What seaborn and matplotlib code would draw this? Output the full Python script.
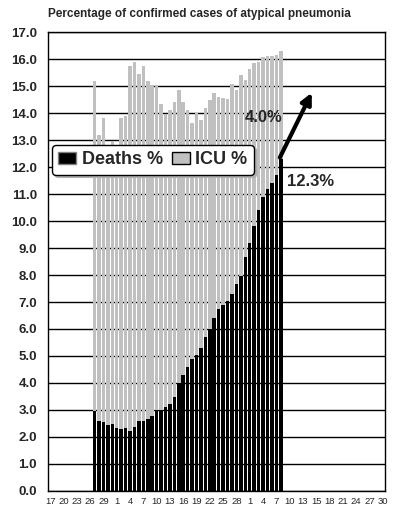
import pandas as pd
import matplotlib.pyplot as plt
import seaborn as sns
from matplotlib.patches import Patch

# axis: one slot per day from 17 March to 31 May, label every third day
days = pd.date_range("2003-03-17", periods=76, freq="D")
tick_labels = ["17", "20", "23", "26", "29", "1", "4", "7", "10", "13", "16", "19",
               "22", "25", "28", "1", "4", "7", "10", "13", "15", "18", "21", "24",
               "27", "30"]

first_day = "2003-03-27"
deaths_pct = [2.95, 2.60, 2.55, 2.45, 2.47, 2.35, 2.28, 2.32, 2.22, 2.37,
              2.58, 2.60, 2.68, 2.76, 3.00, 3.00, 3.10, 3.22, 3.47, 4.00,
              4.30, 4.60, 4.88, 5.05, 5.30, 5.70, 6.00, 6.40, 6.75, 6.90,
              7.05, 7.30, 7.65, 7.95, 8.65, 9.20, 9.80, 10.40, 10.90, 11.20,
              11.40, 11.70, 12.30]
icu_pct = [12.25, 10.58, 11.27, 10.15, 10.49, 10.35, 11.54, 11.58, 13.53, 13.51,
           12.87, 13.15, 12.52, 12.26, 12.05, 11.35, 10.88, 10.88, 10.93, 10.86,
           10.10, 9.50, 8.76, 8.95, 8.45, 8.50, 8.49, 8.34, 7.86, 7.66,
           7.48, 7.76, 7.19, 7.44, 6.59, 6.43, 6.04, 5.50, 5.16, 4.90,
           4.72, 4.45, 4.00]

title = "Percentage of confirmed cases of atypical pneumonia"

sns.set_style("white")
plt.rcParams["font.family"] = ["Liberation Sans", "DejaVu Sans"]

order = days.strftime("%Y-%m-%d")
df = pd.DataFrame({
    "day": pd.date_range(first_day, periods=len(deaths_pct), freq="D").strftime("%Y-%m-%d"),
    "deaths": deaths_pct,
    "icu": icu_pct,
})
df["total"] = df["deaths"] + df["icu"]

fig = plt.figure(figsize=(3.95, 5.13), dpi=100)
ax = fig.add_axes([0.1215, 0.0429, 0.853, 0.8947])

# ICU is stacked on deaths: draw the total in grey, then deaths in black over it
sns.barplot(data=df, x="day", y="total", order=order, color="#c0c0c0", saturation=1,
            width=0.8, errorbar=None, linewidth=0, ax=ax)
sns.barplot(data=df, x="day", y="deaths", order=order, color="black", saturation=1,
            width=0.8, errorbar=None, linewidth=0, ax=ax)

ax.set_xlim(-0.5, len(days) - 0.5)
ax.set_ylim(0, 17)
ax.set_yticks(range(0, 18))
ax.set_yticklabels([f"{v:.1f}" for v in range(0, 18)], fontsize=9.5, fontweight="bold")
ax.set_xticks(range(0, len(days), 3))
ax.set_xticklabels(tick_labels, fontsize=6.8)
ax.tick_params(axis="y", length=0, pad=8)
ax.tick_params(axis="x", length=0, pad=4)
ax.set_xlabel("")
ax.set_ylabel("")
ax.yaxis.grid(True, color="black", linewidth=1)
ax.set_axisbelow(True)
for sp in ax.spines.values():
    sp.set_color("black")
    sp.set_linewidth(1)

fig.text(48 / 395, 1 - 14 / 513, title, ha="left", va="center",
         fontsize=8.5, fontweight="bold")

# arrow from the top of the last deaths bar, with the closing values
last = order.get_loc(df["day"].iloc[-1])
ax.annotate("", xy=(last + 7, deaths_pct[-1] + 2.45), xytext=(last - 0.2, deaths_pct[-1] + 0.05),
            arrowprops=dict(arrowstyle="-|>", color="black", lw=3, mutation_scale=16,
                            shrinkA=0, shrinkB=0))
ax.text(last - 3.8, deaths_pct[-1] + icu_pct[-1] - 2.45, f"{icu_pct[-1]:.1f}%",
        ha="center", va="center", fontsize=12, fontweight="bold")
ax.text(last + 6.8, deaths_pct[-1] - 0.85, f"{deaths_pct[-1]:.1f}%",
        ha="center", va="center", fontsize=12, fontweight="bold")

handles = [Patch(facecolor="black", edgecolor="#808080", label="Deaths %"),
           Patch(facecolor="#c0c0c0", edgecolor="black", label="ICU %")]
leg = ax.legend(handles=handles, loc="upper left", bbox_to_anchor=(0.012, 0.754),
                borderaxespad=0, ncol=2, frameon=True, fancybox=True,
                shadow={"color": "#b0b0b0", "alpha": 1},
                prop={"size": 13, "weight": "bold"}, handlelength=1.0,
                handleheight=0.6, handletextpad=0.3, columnspacing=0.5,
                borderpad=0.35)
leg.get_frame().set_edgecolor("black")
leg.get_frame().set_linewidth(1)
leg.get_frame().set_alpha(1)

fig.savefig("out.png", dpi=100)
